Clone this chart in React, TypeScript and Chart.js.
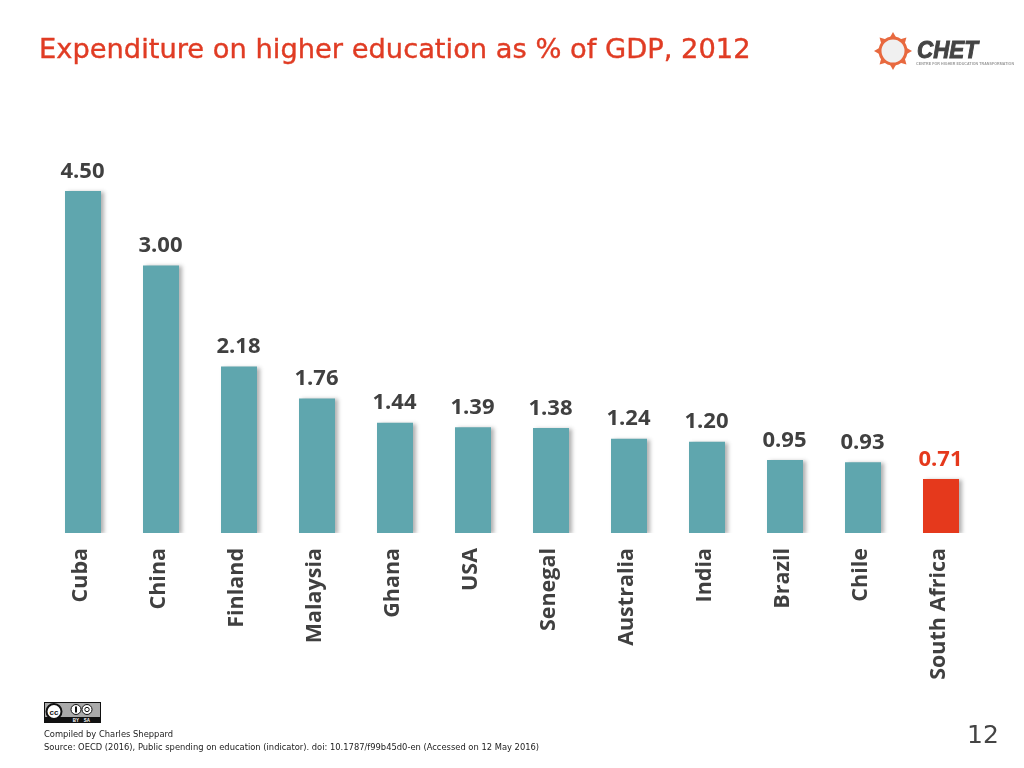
import React, { useRef, useEffect } from "react";
import Chart from "chart.js/auto";

const countries = ["Cuba", "China", "Finland", "Malaysia", "Ghana", "USA", "Senegal", "Australia", "India", "Brazil", "Chile", "South Africa"];
// the slide prints 3.00 for China but its bar is drawn about 3.5 tall
const barHeights = [4.5, 3.52, 2.19, 1.77, 1.45, 1.39, 1.38, 1.24, 1.2, 0.96, 0.93, 0.71];
const printedValues = ["4.50", "3.00", "2.18", "1.76", "1.44", "1.39", "1.38", "1.24", "1.20", "0.95", "0.93", "0.71"];
const barColors = ["#5fa6ae", "#5fa6ae", "#5fa6ae", "#5fa6ae", "#5fa6ae", "#5fa6ae", "#5fa6ae", "#5fa6ae", "#5fa6ae", "#5fa6ae", "#5fa6ae", "#e5391c"];
const valueColors = ["#404040", "#404040", "#404040", "#404040", "#404040", "#404040", "#404040", "#404040", "#404040", "#404040", "#404040", "#e5391c"];

const titleText = "Expenditure on higher education as % of GDP, 2012";
const compiledText = "Compiled by Charles Sheppard";
const sourceText = "Source: OECD (2016), Public spending on education (indicator). doi: 10.1787/f99b45d0-en (Accessed on 12 May 2016)";

const labelFont = '700 22px "Open Sans"';

const barShadow = {
  id: "barShadow",
  beforeDatasetsDraw(chart: any) {
    const ctx = chart.ctx;
    ctx.save();
    ctx.shadowColor = "rgba(60,60,60,0.4)";
    ctx.shadowBlur = 4;
    ctx.shadowOffsetX = 3;
    ctx.shadowOffsetY = 1;
  },
  afterDatasetsDraw(chart: any) {
    chart.ctx.restore();
  },
};

const valueLabels = {
  id: "valueLabels",
  afterDatasetsDraw(chart: any) {
    const ctx = chart.ctx;
    const bars = chart.getDatasetMeta(0).data;
    ctx.save();
    ctx.font = labelFont;
    ctx.textAlign = "center";
    ctx.textBaseline = "alphabetic";
    bars.forEach((bar: any, i: number) => {
      ctx.fillStyle = valueColors[i];
      ctx.fillText(printedValues[i], bar.x - 0.5, bar.y - 13.5);
    });
    ctx.restore();
  },
};

const sunSpikes = [0, 45, 90, 135, 180, 225, 270, 315];

const Logo: React.FC = () => (
  <svg width="156" height="60" style={{ position: "absolute", left: 868, top: 22 }}>
    {sunSpikes.map((a) => (
      <polygon key={a} points="25,10 29,17 21,17" fill="#e8693f" transform={`rotate(${a} 25 29)`} />
    ))}
    <circle cx="25" cy="29" r="13" fill="#f0f0f0" stroke="#e8693f" strokeWidth="3" />
    <text x="49" y="36" fontFamily="Liberation Sans" fontWeight="bold" fontStyle="italic" fontSize="23" fill="#444" stroke="#444" strokeWidth="0.9" textLength="61" lengthAdjust="spacingAndGlyphs">CHET</text>
    <text x="48" y="42.5" fontFamily="Liberation Sans" fontSize="3.6" fontWeight="bold" fill="#999" textLength="98">CENTRE FOR HIGHER EDUCATION TRANSFORMATION</text>
  </svg>
);

const CcBadge: React.FC = () => (
  <svg width="58" height="21" style={{ position: "absolute", left: 44, top: 702 }}>
    <rect x="0.5" y="0.5" width="56" height="20" fill="#aaa" stroke="#111" />
    <rect x="0" y="15" width="57" height="6" fill="#111" />
    <circle cx="10" cy="9.5" r="7.5" fill="#fff" stroke="#111" strokeWidth="2" />
    <text x="10" y="12.5" textAnchor="middle" fontFamily="Liberation Sans" fontWeight="bold" fontSize="8" fill="#111">cc</text>
    <circle cx="32" cy="7.5" r="5" fill="#fff" stroke="#111" />
    <rect x="31" y="4.5" width="2" height="6" fill="#111" />
    <circle cx="43" cy="7.5" r="5" fill="#fff" stroke="#111" />
    <circle cx="43" cy="7.5" r="2.2" fill="none" stroke="#111" />
    <text x="32" y="19.8" textAnchor="middle" fontFamily="Liberation Sans" fontSize="4.5" fontWeight="bold" fill="#fff">BY</text>
    <text x="43" y="19.8" textAnchor="middle" fontFamily="Liberation Sans" fontSize="4.5" fontWeight="bold" fill="#fff">SA</text>
  </svg>
);

const App: React.FC = () => {
  const canvasRef = useRef<HTMLCanvasElement>(null);

  useEffect(() => {
    if (!canvasRef.current) return;
    const chart = new Chart(canvasRef.current, {
      type: "bar",
      data: {
        labels: countries,
        datasets: [
          {
            data: barHeights,
            backgroundColor: barColors,
            borderWidth: 0,
            barPercentage: 36 / 78,
            categoryPercentage: 1,
          },
        ],
      },
      options: {
        animation: false,
        responsive: false,
        layout: { padding: { left: 44, right: 44, top: 153, bottom: 85 } },
        plugins: {
          legend: { display: false },
          tooltip: { enabled: false },
        },
        scales: {
          x: {
            afterFit: (scale: any) => {
              scale.height = 150;
            },
            grid: { display: false },
            border: { display: false },
            ticks: {
              autoSkip: false,
              minRotation: 90,
              maxRotation: 90,
              padding: 7,
              labelOffset: -2,
              color: "#404040",
              font: { family: "Open Sans", size: 21.5, weight: 700 },
            },
          },
          y: { display: false, min: 0, max: 5 },
        },
      },
      plugins: [barShadow, valueLabels],
    });
    return () => chart.destroy();
  }, []);

  return (
    <div style={{ position: "absolute", left: 0, top: 0, width: 1024, height: 768, background: "#fff", overflow: "hidden" }}>
      <canvas ref={canvasRef} width={1024} height={768} style={{ position: "absolute", left: 0, top: 0 }} />
      <div style={{ position: "absolute", left: 39, top: 33, fontFamily: "DejaVu Sans", fontSize: 27.3, color: "#e03c24", whiteSpace: "nowrap", WebkitTextStroke: "0.4px #e03c24" }}>{titleText}</div>
      <Logo />
      <CcBadge />
      <div style={{ position: "absolute", left: 44, top: 729, fontFamily: "DejaVu Sans", fontSize: 8.35, color: "#222", whiteSpace: "nowrap" }}>{compiledText}</div>
      <div style={{ position: "absolute", left: 44, top: 742, fontFamily: "DejaVu Sans", fontSize: 8.35, color: "#222", whiteSpace: "nowrap" }}>{sourceText}</div>
      <div style={{ position: "absolute", left: 967, top: 720, fontFamily: "DejaVu Sans", fontSize: 25, color: "#444", whiteSpace: "nowrap" }}>12</div>
    </div>
  );
};

export default App;
